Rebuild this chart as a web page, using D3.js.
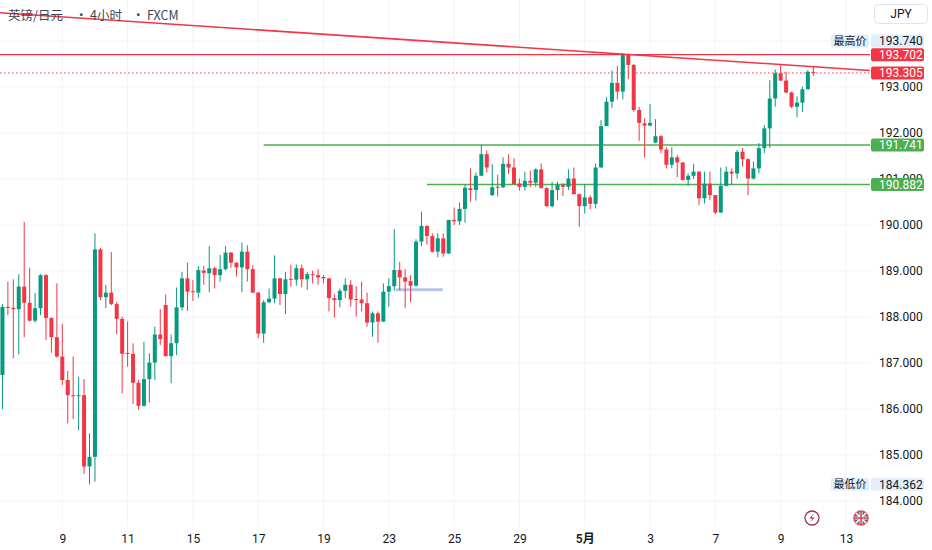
<!DOCTYPE html>
<html>
<head>
<meta charset="utf-8">
<script src="https://cdn.jsdelivr.net/npm/d3@7"></script>
<style>
  html, body { margin: 0; padding: 0; background: #fff; }
  svg { display: block; font-family: Roboto, "Noto Sans CJK SC", sans-serif; }
</style>
</head>
<body>
<svg id="chart" width="932" height="550"></svg>
<script>
// 4h candles, oldest first
const opens = [
  186.74,188.22,188.20,188.17,188.66,188.31,187.92,188.19,188.91,187.98,
  187.56,187.14,186.63,186.30,186.28,186.30,184.75,184.96,189.47,188.43,
  188.53,188.28,187.96,187.22,187.20,186.57,186.07,186.65,187.01,187.62,
  188.26,187.15,187.43,188.21,188.84,188.56,188.53,189.01,188.95,189.06,
  188.91,189.04,189.40,189.18,189.08,189.42,189.04,188.53,187.64,188.32,
  188.40,188.84,188.50,188.83,188.81,189.06,188.82,188.93,188.91,188.87,
  188.84,188.41,188.37,188.57,188.70,188.39,188.38,188.30,187.88,188.08,
  187.90,188.55,188.67,189.02,188.86,188.78,188.68,189.64,189.98,189.76,
  189.42,189.71,189.38,190.11,190.08,190.35,190.80,190.76,191.07,191.54,
  190.65,190.83,190.82,191.33,191.25,190.90,190.83,190.96,190.92,191.21,
  190.80,190.41,190.76,190.87,190.83,191.01,190.67,190.41,190.60,190.46,
  191.25,192.15,192.68,193.09,192.90,193.70,193.48,192.50,192.21,192.16,
  191.79,191.93,191.64,191.31,191.47,191.36,190.98,191.07,191.16,190.58,
  190.90,190.65,190.27,190.85,191.16,191.12,191.59,191.43,191.01,191.23,
  191.67,192.10,192.75,193.30,193.14,192.88,192.57,192.66,192.95,193.33
]
const highs = [
  188.28,188.77,188.82,188.93,190.07,189.07,188.52,188.93,188.93,187.99,
  188.73,187.85,186.83,187.14,186.70,186.65,185.47,189.82,189.50,188.70,
  189.41,188.33,188.01,187.90,187.43,186.63,187.46,187.21,187.79,188.17,
  188.49,187.62,188.64,188.98,189.18,188.80,189.11,189.11,189.54,189.09,
  189.35,189.54,189.41,189.19,189.62,189.56,189.13,188.54,188.37,188.62,
  189.34,188.85,188.98,189.14,189.14,189.14,188.98,189.01,189.04,188.91,
  188.85,188.49,188.62,188.84,188.80,188.67,188.77,188.53,188.12,188.12,
  188.73,188.84,189.91,189.20,189.04,188.91,189.69,190.29,189.99,189.82,
  189.82,189.82,190.11,190.38,190.49,190.87,191.23,191.14,191.74,191.62,
  191.32,191.09,191.47,191.54,191.45,191.01,191.16,191.18,191.23,191.34,
  190.82,190.94,190.94,190.91,191.21,191.25,190.68,190.89,190.65,191.34,
  192.28,192.78,193.36,193.46,193.74,193.72,193.50,192.57,192.32,192.63,
  192.30,191.96,191.69,191.69,191.52,191.36,191.12,191.33,191.16,191.16,
  191.16,190.65,191.25,191.27,191.23,191.63,191.67,191.45,191.38,191.78,
  192.17,193.15,193.38,193.50,193.33,192.90,192.80,193.01,193.37,193.46
]
const lows = [
  186.00,188.04,187.10,187.19,187.56,187.90,187.88,188.04,187.50,187.22,
  187.12,186.52,185.69,185.78,185.54,184.59,184.362,184.42,188.37,188.19,
  188.26,187.63,186.34,186.92,186.11,185.99,186.05,186.14,186.63,187.39,
  187.14,186.56,187.17,188.14,188.13,188.35,188.42,188.70,188.54,188.62,
  188.77,189.01,189.07,188.88,188.54,188.77,188.52,187.54,187.44,188.30,
  188.30,188.26,188.06,188.66,188.68,188.64,188.59,188.73,188.70,188.73,
  188.12,187.99,188.21,188.41,188.22,188.01,188.12,187.79,187.57,187.44,
  187.89,188.22,188.57,188.59,188.19,188.33,188.66,189.54,189.57,189.40,
  189.30,189.31,189.37,190.00,190.00,190.05,190.51,190.53,191.06,191.14,
  190.63,190.62,190.80,191.11,190.89,190.75,190.75,190.82,190.83,190.80,
  190.40,190.38,190.54,190.63,190.76,190.67,189.96,190.25,190.34,190.36,
  191.25,192.15,192.54,192.73,192.73,193.17,192.46,191.83,191.47,192.15,
  191.78,191.56,191.23,191.23,191.04,190.96,190.85,191.00,190.43,190.47,
  190.54,190.24,190.26,190.84,190.87,191.01,191.27,190.65,190.99,191.12,
  191.56,191.67,192.57,193.13,192.86,192.54,192.34,192.46,192.95,193.24
]
const closes = [
  188.22,188.20,188.17,188.66,188.31,187.92,188.19,188.91,187.98,187.56,
  187.14,186.63,186.30,186.28,186.30,184.75,184.96,189.47,188.43,188.53,
  188.28,187.96,187.20,187.20,186.57,186.07,186.65,187.01,187.62,187.52,
  187.15,187.43,188.21,188.84,188.55,188.54,189.02,188.96,189.06,188.91,
  189.04,189.40,189.18,189.08,189.42,189.04,188.53,187.64,188.32,188.40,
  188.84,188.50,188.82,188.81,189.06,188.82,188.93,188.91,188.86,188.84,
  188.41,188.37,188.57,188.70,188.38,188.38,188.30,187.88,188.08,187.90,
  188.55,188.67,189.02,188.86,188.77,188.68,189.64,189.98,189.76,189.42,
  189.71,189.38,190.11,190.08,190.35,190.81,190.76,191.07,191.54,191.25,
  190.82,190.81,191.33,191.25,190.89,190.83,190.96,190.92,191.21,190.80,
  190.41,190.76,190.87,190.83,191.01,190.67,190.41,190.60,190.46,191.25,
  192.15,192.68,193.09,192.90,193.70,193.48,192.50,192.22,192.16,192.22,
  191.93,191.64,191.31,191.47,191.36,190.98,191.07,191.16,190.58,190.90,
  190.65,190.27,190.85,191.16,191.12,191.59,191.43,191.01,191.23,191.67,
  192.10,192.75,193.30,193.14,192.88,192.57,192.66,192.95,193.33,193.305
]

const dayTicks = [11, 23, 35, 47, 59, 71, 83, 95, 107, 119, 131, 143, 155]
const dayLabels = ['9', '11', '15', '17', '19', '23', '25', '29', '5月', '3', '7', '9', '13']
const priceTicks = [184, 185, 186, 187, 188, 189, 190, 191, 192, 193]

// drawings (bar index, price)
const resistance = 193.702
const lastPrice = closes[closes.length - 1]
const supports = [[48, 191.741], [78, 190.882]]
const trendline = [[-0.45, 194.615], [159.4, 193.359]]
const markerBar = [[72.3, 188.59], [80.9, 188.59]]

const paneW = 870, paneH = 527
const up = '#089981', down = '#f23645', lineGreen = '#4caf50'

const svg = d3.select('#chart')
const x = d3.scaleLinear().domain([0, 155]).range([2.44, 2.44 + 155 * 5.442])
const y = d3.scaleLinear().domain([184, 193]).range([501, 87])

svg.append('clipPath').attr('id', 'pane')
  .append('rect').attr('width', paneW).attr('height', paneH)

const pane = svg.append('g').attr('clip-path', 'url(#pane)')

// grid
pane.append('g').selectAll('line').data(dayTicks).join('line')
  .attr('x1', d => x(d)).attr('x2', d => x(d))
  .attr('y1', 0).attr('y2', paneH)
  .attr('stroke', '#f0f3fa')
pane.append('g').selectAll('line').data(priceTicks.concat([194])).join('line')
  .attr('x1', 0).attr('x2', paneW)
  .attr('y1', d => y(d)).attr('y2', d => y(d))
  .attr('stroke', '#f0f3fa')

// level lines
pane.append('line')
  .attr('x1', 0).attr('x2', paneW)
  .attr('y1', y(resistance)).attr('y2', y(resistance))
  .attr('stroke', down).attr('stroke-width', 1.2)
pane.append('line')
  .attr('x1', 0).attr('x2', paneW)
  .attr('y1', y(lastPrice)).attr('y2', y(lastPrice))
  .attr('stroke', down).attr('stroke-width', 1).attr('stroke-dasharray', '1.5,2.5')
pane.append('g').selectAll('line').data(supports).join('line')
  .attr('x1', d => x(d[0])).attr('x2', paneW)
  .attr('y1', d => y(d[1])).attr('y2', d => y(d[1]))
  .attr('stroke', lineGreen).attr('stroke-width', 1.5)

pane.append('line')
  .attr('x1', x(markerBar[0][0])).attr('x2', x(markerBar[1][0]))
  .attr('y1', y(markerBar[0][1])).attr('y2', y(markerBar[1][1]))
  .attr('stroke', '#b6c6e4').attr('stroke-width', 3)

// candles
const idx = d3.range(opens.length)
const colorOf = i => closes[i] >= opens[i] ? up : down

pane.append('g').selectAll('line').data(idx).join('line')
  .attr('x1', i => x(i)).attr('x2', i => x(i))
  .attr('y1', i => y(highs[i])).attr('y2', i => y(lows[i]))
  .attr('stroke', colorOf).attr('stroke-width', 1)

pane.append('g').selectAll('rect').data(idx).join('rect')
  .attr('x', i => x(i) - 2).attr('width', 4)
  .attr('y', i => y(Math.max(opens[i], closes[i])))
  .attr('height', i => Math.max(1, Math.abs(y(opens[i]) - y(closes[i]))))
  .attr('fill', colorOf)

// trend line
pane.append('line')
  .attr('x1', x(trendline[0][0])).attr('y1', y(trendline[0][1]))
  .attr('x2', x(trendline[1][0])).attr('y2', y(trendline[1][1]))
  .attr('stroke', down).attr('stroke-width', 1.6)

// title
const title = svg.append('g')
  .attr('font-family', '"Noto Sans CJK SC", sans-serif')
  .attr('font-size', 12.5).attr('fill', '#434651')
title.append('text').attr('x', 8).attr('y', 19.5).text('英镑/日元')
title.append('text').attr('x', 75).attr('y', 19.5).text('•')
title.append('text').attr('x', 90).attr('y', 19.5).text('4小时')
title.append('text').attr('x', 132).attr('y', 19.5).text('•')
title.append('text').attr('x', 147).attr('y', 19.5).text('FXCM')

// bottom icons
const bolt = pane.append('g').attr('transform', 'translate(812,518)')
bolt.append('circle').attr('r', 7).attr('fill', '#fff')
  .attr('stroke', '#a1305b').attr('stroke-width', 1.3)
bolt.append('path').attr('d', 'M1.8,-4.2 L-2.6,0.6 L0.4,0.6 L-1.8,4.2 L2.6,-0.6 L-0.4,-0.6 Z')
  .attr('fill', '#a1305b')
const flag = pane.append('g').attr('transform', 'translate(861,518)')
flag.append('circle').attr('r', 7).attr('fill', '#2a7f8f')
  .attr('stroke', '#f0475a').attr('stroke-width', 1.6)
flag.append('path').attr('d', 'M-5,-5 L5,5 M5,-5 L-5,5')
  .attr('stroke', '#fff').attr('stroke-width', 1.6)
flag.append('path').attr('d', 'M0,-6 V6 M-6,0 H6')
  .attr('stroke', '#fff').attr('stroke-width', 3)
flag.append('path').attr('d', 'M0,-6 V6 M-6,0 H6')
  .attr('stroke', '#e8384c').attr('stroke-width', 1.5)

// axes
const yAxis = svg.append('g')
  .attr('transform', `translate(${paneW},0)`)
  .call(d3.axisRight(y).tickValues(priceTicks).tickFormat(d3.format('.3f')).tickSize(0).tickPadding(9))
yAxis.select('.domain').remove()
yAxis.selectAll('text').attr('font-size', 12).attr('fill', '#131722')
  .attr('font-family', 'Roboto, sans-serif')

const xAxis = svg.append('g')
  .attr('transform', `translate(0,${paneH})`)
  .call(d3.axisBottom(x).tickValues(dayTicks).tickFormat((d, i) => dayLabels[i]).tickSize(0).tickPadding(7))
xAxis.select('.domain').remove()
xAxis.selectAll('text').attr('font-size', 12).attr('fill', '#131722')
  .attr('font-family', 'Roboto, "Noto Sans CJK SC", sans-serif')
  .attr('font-weight', (d, i) => dayLabels[i].includes('月') ? 600 : 400)

// price tags on the scale
function tag(value, bg, fg, yc) {
  const g = svg.append('g').attr('transform', `translate(0,${yc})`)
  g.append('rect').attr('x', 871).attr('y', -6.5).attr('width', 53).attr('height', 13)
    .attr('rx', 2).attr('fill', bg)
  g.append('text').attr('x', 879).attr('dy', '0.35em')
    .attr('font-size', 12).attr('fill', fg).attr('font-family', 'Roboto, sans-serif')
    .text(d3.format('.3f')(value))
  return g
}
function caption(label, yc) {
  const g = svg.append('g').attr('transform', `translate(0,${yc})`)
  g.append('rect').attr('x', 831).attr('y', -6.5).attr('width', 38).attr('height', 13)
    .attr('rx', 2).attr('fill', '#e3eefc')
  g.append('text').attr('x', 850).attr('dy', '0.36em').attr('text-anchor', 'middle')
    .attr('font-size', 11).attr('fill', '#131722').attr('font-family', '"Noto Sans CJK SC", sans-serif')
    .text(label)
}

const hi = d3.max(highs), lo = d3.min(lows)
tag(hi, '#e3eefc', '#131722', 41)
caption('最高价', 41)
tag(resistance, down, '#fff', y(resistance))
tag(lastPrice, down, '#fff', y(lastPrice))
supports.forEach(d => tag(d[1], lineGreen, '#fff', y(d[1])))
tag(lo, '#e3eefc', '#131722', y(lo))
caption('最低价', y(lo))

// currency box
const cur = svg.append('g')
cur.append('rect').attr('x', 874.5).attr('y', 4.5).attr('width', 53).attr('height', 19)
  .attr('rx', 4).attr('fill', '#fff').attr('stroke', '#e0e3eb')
cur.append('text').attr('x', 901).attr('y', 14).attr('dy', '0.35em').attr('text-anchor', 'middle')
  .attr('font-size', 12).attr('fill', '#131722').attr('font-family', 'Roboto, sans-serif')
  .text('JPY')
</script>
</body>
</html>
